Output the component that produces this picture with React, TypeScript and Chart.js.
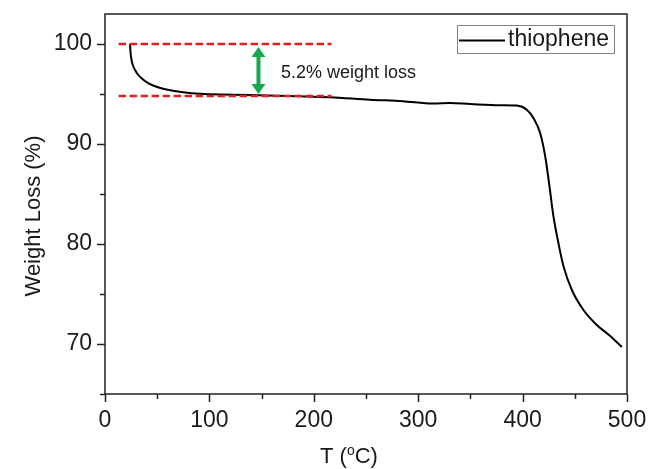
import React, { useEffect, useRef } from "react";
import { Chart, registerables } from "chart.js";

Chart.register(...registerables);

// ---- data ----
const temperature = [
  24.0, 24.2, 24.6, 25.6, 27.0, 28.8, 31.5, 36.4, 42.0, 50.0, 60.0, 74.8, 90.8, 122.4, 154.7,
  185.0, 215.4, 253.8, 285.4, 314.2, 330.6, 349.8, 378.4, 394.4, 404.0, 410.4, 416.8,
  421.6, 425.7, 429.5, 434.3, 439.1, 447.2, 458.3, 471.1, 483.9, 495.1,
];
const weight = [
  100.0, 99.6, 99.0, 98.3, 97.8, 97.4, 96.95, 96.45, 96.05, 95.7, 95.42, 95.18, 95.02, 94.93, 94.86,
  94.78, 94.68, 94.43, 94.28, 94.05, 94.1, 94.0, 93.88, 93.84, 93.43, 92.6, 91.1,
  88.8, 85.8, 82.8, 80.1, 77.8, 75.4, 73.4, 71.9, 70.8, 69.7,
];
const seriesName = "thiophene";

const refLineX = [13, 217];
const refTop = 100;
const refBottom = 94.8;

const arrowT = 147;
const arrowFrom = 99.7;
const arrowTo = 95.0;
const annotationText = "5.2% weight loss";
const annotationT = 168.5;
const annotationW = 97.1;

const xMajorTicks = [0, 100, 200, 300, 400, 500];
const xMinorTicks = [50, 150, 250, 350, 450];
const yMajorTicks = [70, 80, 90, 100];
const yMinorTicks = [65, 75, 85, 95];

const xMin = 0;
const xMax = 500;
const yMin = 65;
const yMax = 103;

const FONT = "'Liberation Sans', Arial, sans-serif";
const INK = "#1a1a1a";

const decorPlugin = {
  id: "decor",
  afterDatasetsDraw(chart: any) {
    const { ctx, chartArea: a, scales } = chart;
    const xs = scales.x;
    const ys = scales.y;
    ctx.save();

    // frame
    ctx.strokeStyle = "#222";
    ctx.lineWidth = 1.5;
    ctx.strokeRect(a.left, a.top, a.right - a.left, a.bottom - a.top);

    // ticks
    ctx.lineWidth = 1.5;
    ctx.beginPath();
    for (const v of yMajorTicks) {
      const y = Math.round(ys.getPixelForValue(v)) + 0.5;
      ctx.moveTo(a.left - 8, y);
      ctx.lineTo(a.left, y);
    }
    for (const v of yMinorTicks) {
      const y = Math.round(ys.getPixelForValue(v)) + 0.5;
      ctx.moveTo(a.left - 5, y);
      ctx.lineTo(a.left, y);
    }
    for (const v of xMajorTicks) {
      const x = Math.round(xs.getPixelForValue(v)) + 0.5;
      ctx.moveTo(x, a.bottom);
      ctx.lineTo(x, a.bottom + 8);
    }
    for (const v of xMinorTicks) {
      const x = Math.round(xs.getPixelForValue(v)) + 0.5;
      ctx.moveTo(x, a.bottom);
      ctx.lineTo(x, a.bottom + 5);
    }
    ctx.stroke();

    // green double arrow
    const ax = xs.getPixelForValue(arrowT);
    const ay1 = ys.getPixelForValue(arrowFrom);
    const ay2 = ys.getPixelForValue(arrowTo);
    const head = 10;
    const hw = 7;
    ctx.strokeStyle = "#17a84b";
    ctx.fillStyle = "#17a84b";
    ctx.lineWidth = 4;
    ctx.beginPath();
    ctx.moveTo(ax, ay1 + head - 1);
    ctx.lineTo(ax, ay2 - head + 1);
    ctx.stroke();
    ctx.beginPath();
    ctx.moveTo(ax, ay1);
    ctx.lineTo(ax - hw, ay1 + head);
    ctx.lineTo(ax + hw, ay1 + head);
    ctx.closePath();
    ctx.fill();
    ctx.beginPath();
    ctx.moveTo(ax, ay2);
    ctx.lineTo(ax - hw, ay2 - head);
    ctx.lineTo(ax + hw, ay2 - head);
    ctx.closePath();
    ctx.fill();

    // annotation text
    ctx.fillStyle = INK;
    ctx.font = `18px ${FONT}`;
    ctx.textAlign = "left";
    ctx.textBaseline = "middle";
    ctx.fillText(annotationText, xs.getPixelForValue(annotationT), ys.getPixelForValue(annotationW));

    // legend
    const lx = 457, ly = 25.5, lw = 157, lh = 28;
    ctx.strokeStyle = "#808080";
    ctx.lineWidth = 1;
    ctx.strokeRect(lx + 0.5, ly, lw, lh);
    ctx.strokeStyle = "#000";
    ctx.lineWidth = 2;
    ctx.beginPath();
    ctx.moveTo(lx + 2, ly + 15);
    ctx.lineTo(lx + 48, ly + 15);
    ctx.stroke();
    ctx.fillStyle = INK;
    ctx.font = `23px ${FONT}`;
    ctx.textBaseline = "middle";
    ctx.fillText(seriesName, lx + 51, ly + 14);

    // axis titles
    ctx.font = `22px ${FONT}`;
    ctx.textBaseline = "alphabetic";
    const p1 = "T (";
    const sup = "o";
    const p2 = "C)";
    const w1 = ctx.measureText(p1).width;
    const w2 = ctx.measureText(p2).width;
    ctx.font = `14px ${FONT}`;
    const ws = ctx.measureText(sup).width;
    const total = w1 + ws + w2;
    const cx = 349;
    const by = 463;
    const x0 = cx - total / 2;
    ctx.font = `22px ${FONT}`;
    ctx.fillText(p1, x0, by);
    ctx.font = `14px ${FONT}`;
    ctx.fillText(sup, x0 + w1, by - 8);
    ctx.font = `22px ${FONT}`;
    ctx.fillText(p2, x0 + w1 + ws, by);

    ctx.save();
    ctx.translate(40, 216);
    ctx.rotate(-Math.PI / 2);
    ctx.textAlign = "center";
    ctx.textBaseline = "alphabetic";
    ctx.fillText("Weight Loss (%)", 0, 0);
    ctx.restore();

    ctx.restore();
  },
};

export default function App() {
  const ref = useRef<HTMLCanvasElement | null>(null);

  useEffect(() => {
    if (!ref.current) return;
    const curve = temperature.map((t, i) => ({ x: t, y: weight[i] }));
    const chart = new Chart(ref.current, {
      type: "line",
      data: {
        datasets: [
          {
            label: "ref-top",
            data: refLineX.map((x) => ({ x, y: refTop })),
            borderColor: "#e0201e",
            borderWidth: 2.5,
            borderDash: [7.5, 3.5],
            pointRadius: 0,
            order: 0,
          },
          {
            label: "ref-bottom",
            data: refLineX.map((x) => ({ x, y: refBottom })),
            borderColor: "#e0201e",
            borderWidth: 2.5,
            borderDash: [7.5, 3.5],
            pointRadius: 0,
            order: 0,
          },
          {
            label: seriesName,
            data: curve,
            borderColor: "#000",
            borderWidth: 2,
            pointRadius: 0,
            cubicInterpolationMode: "monotone",
            order: 1,
          },
        ],
      },
      options: {
        responsive: false,
        animation: false,
        layout: { padding: { left: 0, right: 21, top: 14, bottom: 0 } },
        plugins: {
          legend: { display: false },
          tooltip: { enabled: false },
        },
        scales: {
          x: {
            type: "linear",
            min: xMin,
            max: xMax,
            afterBuildTicks: (s: any) => {
              s.ticks = xMajorTicks.map((v) => ({ value: v }));
            },
            afterFit: (s: any) => {
              s.height = 75;
              s.paddingLeft = 0;
              s.paddingRight = 0;
            },
            grid: { display: false, drawTicks: false },
            border: { display: false },
            ticks: {
              font: { family: FONT, size: 23 },
              color: INK,
              padding: 13,
              maxRotation: 0,
              autoSkip: false,
            },
          },
          y: {
            type: "linear",
            min: yMin,
            max: yMax,
            afterBuildTicks: (s: any) => {
              s.ticks = yMajorTicks.map((v) => ({ value: v }));
            },
            afterFit: (s: any) => {
              s.width = 105;
              s.paddingTop = 0;
              s.paddingBottom = 0;
            },
            grid: { display: false, drawTicks: false },
            border: { display: false },
            ticks: {
              font: { family: FONT, size: 23 },
              color: INK,
              padding: 13,
              autoSkip: false,
            },
          },
        },
      },
      plugins: [decorPlugin],
    });
    return () => chart.destroy();
  }, []);

  return (
    <div style={{ position: "absolute", left: 0, top: 0, width: 648, height: 469, background: "#fff" }}>
      <canvas ref={ref} width={648} height={469} />
    </div>
  );
}
